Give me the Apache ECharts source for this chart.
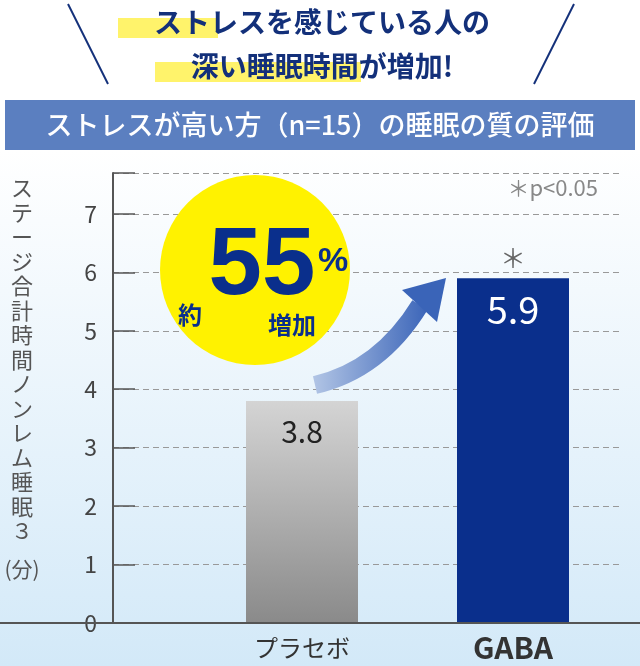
<!DOCTYPE html>
<html><head><meta charset="utf-8">
<script src="https://cdn.jsdelivr.net/npm/echarts@6/dist/echarts.min.js"></script>
<style>html,body{margin:0;padding:0;background:#fff}#c{width:640px;height:666px}</style>
</head><body><div id="c"></div>
<script>
const categories = ['プラセボ', 'GABA'];
const values = [3.8, 5.9];
const positions = [189, 400];
const yTicks = [0,1,2,3,4,5,6,7];
const F = '"Noto Sans CJK JP", sans-serif';
const chart = echarts.init(document.getElementById('c'));
const GL = 113, GT = 173, GB = 666-623, GR = 20;
chart.setOption({
  animation:false,
  grid:{left:GL, top:GT, bottom:GB, right:GR},
  xAxis:{type:'value', min:0, max:507, axisLabel:{show:false}, splitLine:{show:false}, axisTick:{show:false},
    axisLine:{show:false}},
  yAxis:{type:'value', min:0, max:7.7, interval:1,
    axisLabel:{color:'#444', fontSize:23, fontFamily:F, margin:16, formatter:v=>yTicks.includes(v)?String(v):''},
    axisLine:{show:true, lineStyle:{color:'#555', width:2}},
    axisTick:{show:true, inside:true, length:22, lineStyle:{color:'#555', width:1.5}},
    splitLine:{lineStyle:{color:'#999', type:[6,4], width:1}}},
  series:[{type:'bar', barWidth:112, z:5,
    data: values.map((v,i)=>({value:[positions[i], v],
      itemStyle:{color: i===0 ? new echarts.graphic.LinearGradient(0,0,0,1,[{offset:0,color:'#d4d4d4'},{offset:1,color:'#8a8a8a'}]) : '#0a2f8c'},
      label:{show:true, position:'insideTop', distance: i===0?16:12, formatter:String(v), color: i===0?'#222':'#fff', fontSize: i===0?30:38, fontFamily:F}}))
  }]
});
const px = positions.map((p,i)=>chart.convertToPixel({xAxisIndex:0,yAxisIndex:0},[p, values[i]]));
const vertName = 'ステージ合計時間ノンレム睡眠３';
const g = [
  {type:'rect', shape:{x:0,y:150,width:640,height:516}, z:-10, silent:true,
   style:{fill:new echarts.graphic.LinearGradient(0,0,0,1,[{offset:0,color:'#ffffff'},{offset:1,color:'#d3e9f8'}])}},
  {type:'line', shape:{x1:0,y1:623,x2:640,y2:623}, style:{stroke:'#555',lineWidth:2}, z:20},
  {type:'rect', shape:{x:5,y:100,width:630,height:50}, style:{fill:'#5b7fc0'}},
  {type:'text', x:320, y:125, style:{text:'ストレスが高い方（n=15）の睡眠の質の評価', fill:'#fff', font:'500 27px '+F, align:'center', verticalAlign:'middle'}},
  {type:'rect', shape:{x:118,y:18,width:100,height:20}, style:{fill:'#fff36b'}},
  {type:'rect', shape:{x:155,y:62,width:206,height:20}, style:{fill:'#fff36b'}},
  {type:'text', x:322, y:22, style:{text:'ストレスを感じている人の', fill:'#13307a', font:'bold 28px '+F, align:'center', verticalAlign:'middle'}},
  {type:'text', x:322, y:66, style:{text:'深い睡眠時間が増加!', fill:'#13307a', font:'bold 28px '+F, align:'center', verticalAlign:'middle'}},
  {type:'line', shape:{x1:68,y1:4,x2:108,y2:84}, style:{stroke:'#13307a',lineWidth:2}},
  {type:'line', shape:{x1:574,y1:4,x2:534,y2:84}, style:{stroke:'#13307a',lineWidth:2}},
  {type:'text', x:598, y:188, style:{text:'＊p<0.05', fill:'#888', font:'22px '+F, align:'right', verticalAlign:'middle'}},
  {type:'text', x:px[1][0], y:px[1][1]-20, style:{text:'＊', fill:'#666', font:'26px '+F, align:'center', verticalAlign:'middle'}},
  {type:'circle', shape:{cx:255,cy:270,r:95}, style:{fill:'#fff200'}, z:10},
  {type:'text', x:190, y:315, style:{text:'約', fill:'#0a2f8c', font:'bold 24px '+F, align:'center', verticalAlign:'middle'}, z:11},
  {type:'text', x:262, y:268, style:{text:'55', fill:'#0a2f8c', font:'bold 96px "Liberation Sans", sans-serif', align:'center', verticalAlign:'middle'}, z:11},
  {type:'text', x:333, y:262, style:{text:'%', fill:'#0a2f8c', font:'bold 34px "Liberation Sans", sans-serif', align:'center', verticalAlign:'middle'}, z:11},
  {type:'text', x:292, y:325, style:{text:'増加', fill:'#0a2f8c', font:'bold 24px '+F, align:'center', verticalAlign:'middle'}, z:11},
  {type:'bezierCurve', shape:{x1:315,y1:385,cpx1:380,cpy1:370,x2:420,y2:305}, z:12,
   style:{stroke:new echarts.graphic.LinearGradient(0,0,1,0,[{offset:0,color:'#b9cbe8'},{offset:1,color:'#3a64b8'}]), lineWidth:18, fill:null}},
  {type:'polygon', shape:{points:[[402,290],[446,278],[437,322]]}, style:{fill:'#3a64b8'}, z:12},
];
categories.forEach((c,i)=>{
  const x = chart.convertToPixel({xAxisIndex:0},positions[i]);
  g.push({type:'text', x:x, y:648, style:{text:c, fill:'#333', font:(i===1?'bold 30px ':'24px ')+F, align:'center', verticalAlign:'middle'}});
});
[...vertName].forEach((ch,i)=>{
  g.push({type:'text', x:22, y:188+i*24.5, style:{text:ch, fill:'#555', font:'22px '+F, align:'center', verticalAlign:'middle'}});
});
g.push({type:'text', x:22, y:188+vertName.length*24.5+14, style:{text:'(分)', fill:'#555', font:'21px '+F, align:'center', verticalAlign:'middle'}});
chart.setOption({graphic:g});
</script></body></html>
